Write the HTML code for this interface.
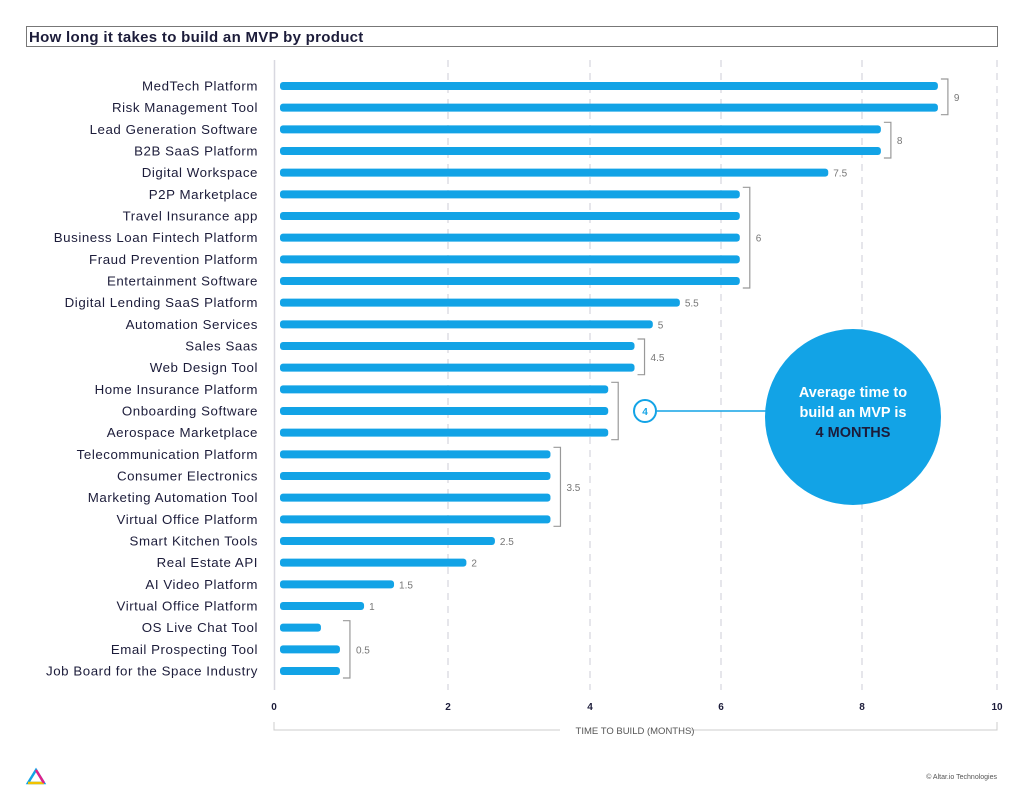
<!DOCTYPE html>
<html><head><meta charset="utf-8"><style>
body{margin:0;background:#fff;font-family:"Liberation Sans",sans-serif;}
svg{display:block}
</style></head><body>
<svg id="c" width="1024" height="812" xmlns="http://www.w3.org/2000/svg">
<rect x="26.5" y="26.5" width="971" height="20" fill="#fff" stroke="#777"/>
<text x="29" y="42" font-size="15" font-weight="bold" fill="#1c1c3a" letter-spacing="0.3">How long it takes to build an MVP by product</text>
<g id="grid"></g><g id="bars"></g><g id="labels"></g><g id="brackets"></g><g id="ticks"></g>
<line x1="274.5" y1="60" x2="274.5" y2="690" stroke="#d8d8e0" stroke-width="1.5"/>
<line x1="657" y1="411" x2="770" y2="411" stroke="#12a3e6" stroke-width="1.5"/>
<circle cx="645" cy="411" r="11" fill="#fff" stroke="#12a3e6" stroke-width="2"/>
<text x="645" y="415" font-size="10" font-weight="bold" fill="#12a3e6" text-anchor="middle">4</text>
<circle cx="853" cy="417" r="88" fill="#12a3e6"/>
<text x="853" y="397" font-size="14.5" font-weight="bold" fill="#fff" text-anchor="middle">Average time to</text>
<text x="853" y="417" font-size="14.5" font-weight="bold" fill="#fff" text-anchor="middle">build an MVP is</text>
<text x="853" y="437" font-size="14.5" font-weight="bold" fill="#1c1c3a" text-anchor="middle">4 MONTHS</text>
<path d="M274 722 V730 H560 M690 730 H997 V722" fill="none" stroke="#ccc"/>
<text x="635" y="734" font-size="9.5" fill="#555" text-anchor="middle">TIME TO BUILD (MONTHS)</text>
<g><path d="M36 770 L28 783 L44 783 Z" fill="none" stroke="#12a3e6" stroke-width="2.5"/><path d="M28 783 L44 783" stroke="#f2c200" stroke-width="2.5"/><path d="M36 770 L44 783" stroke="#e0208a" stroke-width="2.5"/></g>
<text x="997" y="779" font-size="7" fill="#555" text-anchor="end">© Altar.io Technologies</text>
</svg>
<script>
const categories=["MedTech Platform","Risk Management Tool","Lead Generation Software","B2B SaaS Platform","Digital Workspace","P2P Marketplace","Travel Insurance app","Business Loan Fintech Platform","Fraud Prevention Platform","Entertainment Software","Digital Lending SaaS Platform","Automation Services","Sales Saas","Web Design Tool","Home Insurance Platform","Onboarding Software","Aerospace Marketplace","Telecommunication Platform","Consumer Electronics","Marketing Automation Tool","Virtual Office Platform","Smart Kitchen Tools","Real Estate API","AI Video Platform","Virtual Office Platform","OS Live Chat Tool","Email Prospecting Tool","Job Board for the Space Industry"];
const values=[9,9,8.22,8.22,7.5,6.29,6.29,6.29,6.29,6.29,5.47,5.1,4.85,4.85,4.49,4.49,4.49,3.7,3.7,3.7,3.7,2.94,2.55,1.56,1.15,0.56,0.82,0.82];
const groupStart=[0,2,4,5,10,11,12,14,17,21,22,23,24,25];
const groupEnd=[1,3,4,9,10,11,13,16,20,21,22,23,24,27];
const groupLabels=["9","8","7.5","6","5.5","5","4.5","","3.5","2.5","2","1.5","1","0.5"];
const tickLabels=["0","2","4","6","8","10"];
const NS="http://www.w3.org/2000/svg";
const X0=280,PX=73.1,Y0=86,DY=(671-86)/27;
const gridX=[274,448,590,721,862,997];
const xs=v=>X0+v*PX, ys=i=>Y0+i*DY;
function mk(p,t,a){const e=document.createElementNS(NS,t);for(const k in a)e.setAttribute(k,a[k]);document.getElementById(p).appendChild(e);return e;}
tickLabels.forEach((t,i)=>{
 if(i>0){const g=mk('grid','line',{x1:gridX[i],y1:60,x2:gridX[i],y2:690,stroke:'#d8d8e0','stroke-dasharray':'7 6','stroke-width':1.3});
 
 }
 const tx=mk('ticks','text',{x:gridX[i],y:710,'font-size':10,'font-weight':'bold',fill:'#1c1c3a','text-anchor':'middle'});tx.textContent=t;
 
 
});
categories.forEach((c,i)=>{
 const b=mk('bars','rect',{x:X0,y:ys(i)-4,width:xs(values[i])-X0,height:8,rx:3,fill:'#12a3e6'});
 
 
 const t=mk('labels','text',{x:258,y:ys(i)+4.5,'font-size':13.3,fill:'#1c1c3a','text-anchor':'end','letter-spacing':0.55});t.textContent=c;
 
 
});
groupStart.forEach((s,g)=>{
 const e=groupEnd[g];let mx=0;for(let i=s;i<=e;i++)mx=Math.max(mx,xs(values[i]));
 const bx=mx+10;
 if(e>s){const p=mk('brackets','path',{d:`M${mx+3} ${ys(s)-7} H${bx} V${ys(e)+7} H${mx+3}`,fill:'none',stroke:'#999','stroke-width':1.2});
 
 }
 if(groupLabels[g]){const t=mk('brackets','text',{x:e>s?bx+6:mx+5,y:(ys(s)+ys(e))/2+4,'font-size':10,fill:'#777'});t.textContent=groupLabels[g];
 
 }
});
</script>
</body></html>
